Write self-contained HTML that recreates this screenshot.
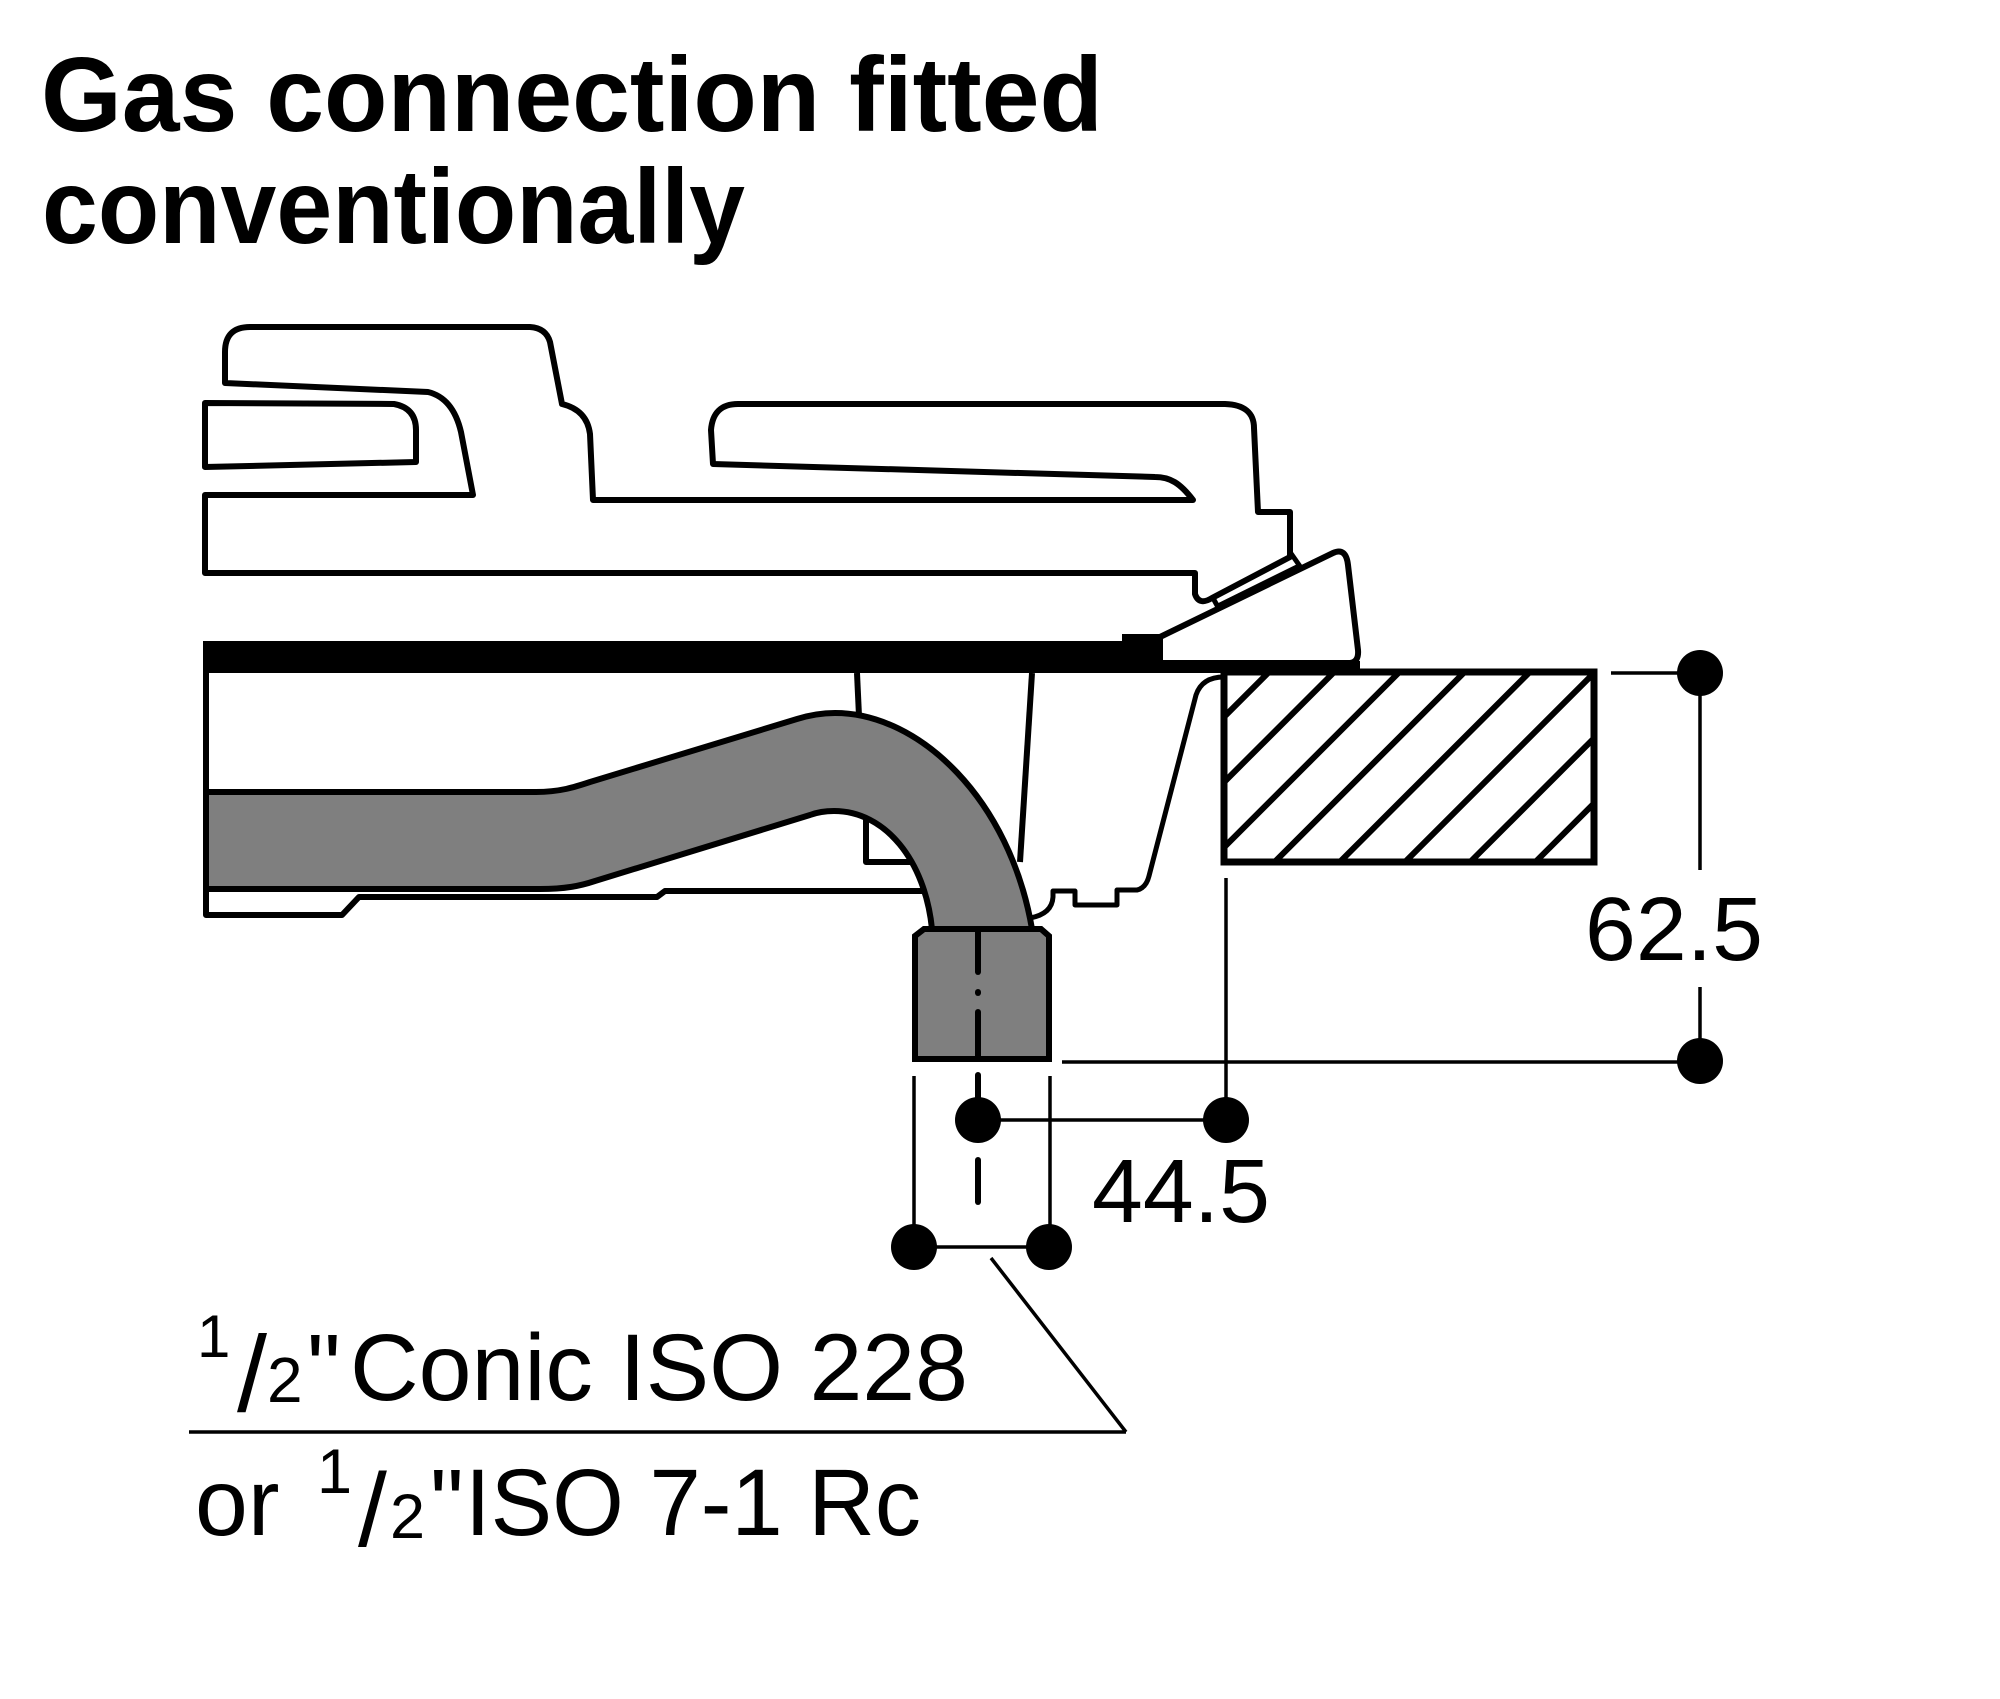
<!DOCTYPE html>
<html>
<head>
<meta charset="utf-8">
<style>
  html, body { margin: 0; padding: 0; background: #fff; }
  svg { display: block; }
</style>
</head>
<body>
<svg width="2000" height="1699" viewBox="0 0 2000 1699" xmlns="http://www.w3.org/2000/svg">
  <rect width="2000" height="1699" fill="#fff"/>

  <!-- Title -->
  <g font-family="'Liberation Sans', Arial, sans-serif" font-weight="bold" fill="#000">
    <text x="41" y="131" font-size="106" textLength="1062" lengthAdjust="spacingAndGlyphs">Gas connection fitted</text>
    <text x="42" y="243" font-size="106" textLength="703" lengthAdjust="spacingAndGlyphs">conventionally</text>
  </g>

  <!-- Upper appliance outline -->
  <g fill="#fff" stroke="#000" stroke-width="6" stroke-linejoin="round">
    <path d="M 225 383 L 225 352 Q 225 327 250 327 L 530 327 Q 546 328 550 342 L 562 404 Q 587 410 590 434 L 593 500 L 1193 500 C 1180 483 1170 477 1155 477 L 713 464 L 711 430 Q 713 404 738 404 L 1225 404 Q 1254 405 1254 428 L 1258 512 L 1290 512 L 1290 557 L 1212 598 Q 1199 606 1195 594 L 1195 573 L 205 573 L 205 495 L 473 495 L 461 432 Q 453 398 428 392 L 225 383 Z"/>
    <path d="M 205 403 L 394 404 Q 416 408 416 430 L 416 462 L 205 467 Z"/>
  </g>
  <!-- strip between top and wedge -->
  <g stroke="#000" stroke-width="5" fill="none" stroke-linecap="butt">
    <line x1="1290" y1="552" x2="1304" y2="572"/>
    <line x1="1218" y1="606" x2="1299" y2="566"/>
    <line x1="1213" y1="598" x2="1219" y2="609"/>
  </g>

  <!-- Wedge -->
  <path d="M 1160 637 L 1333 553 Q 1346 547 1348 565 L 1358 650 Q 1359 662 1350 663 L 1160 663 Z" fill="#fff" stroke="#000" stroke-width="6" stroke-linejoin="round"/>

  <!-- Black bar -->
  <rect x="203" y="641" width="957" height="32" fill="#000"/>
  <rect x="1122" y="634" width="40" height="9" fill="#000"/>
  <rect x="1158" y="661" width="202" height="12" fill="#000"/>

  <!-- Lower body lines -->
  <g stroke="#000" stroke-width="6" fill="none" stroke-linejoin="round">
    <path d="M 206 673 L 206 915 L 342 915 L 359 897 L 657 897 L 665 891 L 932 891"/>
    <path d="M 857 673 L 859 716"/>
    <path d="M 866 815 L 866 862 L 915 862"/>
    <path d="M 1032 673 L 1020 862"/>
  </g>
  <path d="M 1030 918 Q 1052 914 1053 897 L 1053 891 L 1075 891 L 1075 905 L 1117 905 L 1117 890 L 1137 890 Q 1146 888 1149 876 L 1196 695 Q 1202 677 1224 677" stroke="#000" stroke-width="5" fill="none" stroke-linejoin="round"/>

  <!-- Pipe -->
  <path d="M 206 792 L 536 792 C 560 792 575 787 590 782 L 797 719 C 810 715 822 713 835 713 C 920 713 1010 800 1032 929 L 932 929 C 925 860 885 811 834 811 C 826 811 818 812 810 815 L 595 881 C 580 886 565 889 540 889 L 206 889 Z" fill="#7f7f7f" stroke="#000" stroke-width="6" stroke-linejoin="round"/>

  <!-- Fitting -->
  <path d="M 915 1059 L 915 936 L 924 929 L 1041 929 L 1049 936 L 1049 1059 Z" fill="#7f7f7f" stroke="#000" stroke-width="6" stroke-linejoin="miter"/>
  <g stroke="#000" stroke-width="6" stroke-linecap="round">
    <line x1="978" y1="929" x2="978" y2="972"/>
    <line x1="978" y1="992" x2="978" y2="993"/>
    <line x1="978" y1="1012" x2="978" y2="1059"/>
    <line x1="978" y1="1075" x2="978" y2="1115"/>
    <line x1="978" y1="1160" x2="978" y2="1202"/>
  </g>

  <!-- Hatched counter -->
  <defs>
    <clipPath id="hc"><rect x="1224" y="672" width="370" height="190"/></clipPath>
  </defs>
  <g clip-path="url(#hc)" stroke="#000" stroke-width="6">
    <line x1="1079" y1="862" x2="1269" y2="672"/>
    <line x1="1144.2" y1="862" x2="1334.2" y2="672"/>
    <line x1="1209.4" y1="862" x2="1399.4" y2="672"/>
    <line x1="1274.6" y1="862" x2="1464.6" y2="672"/>
    <line x1="1339.8" y1="862" x2="1529.8" y2="672"/>
    <line x1="1405" y1="862" x2="1595" y2="672"/>
    <line x1="1470.2" y1="862" x2="1660.2" y2="672"/>
    <line x1="1535.4" y1="862" x2="1725.4" y2="672"/>
  </g>
  <rect x="1224" y="672" width="370" height="190" fill="none" stroke="#000" stroke-width="7"/>

  <!-- Dimension lines -->
  <g stroke="#000" stroke-width="3.5" fill="none">
    <line x1="1611" y1="673" x2="1700" y2="673"/>
    <line x1="1700" y1="673" x2="1700" y2="870"/>
    <line x1="1700" y1="987" x2="1700" y2="1061"/>
    <line x1="1062" y1="1062" x2="1700" y2="1062"/>
    <line x1="1226" y1="878" x2="1226" y2="1120"/>
    <line x1="978" y1="1120" x2="1226" y2="1120"/>
    <line x1="914" y1="1076" x2="914" y2="1247"/>
    <line x1="1050" y1="1076" x2="1050" y2="1247"/>
    <line x1="914" y1="1247" x2="1050" y2="1247"/>
    <line x1="991" y1="1258" x2="1126" y2="1432"/>
    <line x1="189" y1="1432" x2="1126" y2="1432"/>
  </g>
  <g fill="#000">
    <circle cx="1700" cy="673" r="23"/>
    <circle cx="1700" cy="1061" r="23"/>
    <circle cx="978" cy="1120" r="23"/>
    <circle cx="1226" cy="1120" r="23"/>
    <circle cx="914" cy="1247" r="23"/>
    <circle cx="1049" cy="1247" r="23"/>
  </g>

  <!-- Dimension labels -->
  <g font-family="'Liberation Sans', Arial, sans-serif" fill="#000">
    <text x="1585" y="960" font-size="90" textLength="178" lengthAdjust="spacingAndGlyphs">62.5</text>
    <text x="1092" y="1222" font-size="90" textLength="178" lengthAdjust="spacingAndGlyphs">44.5</text>
  </g>

  <!-- Thread label -->
  <g font-family="'Liberation Sans', Arial, sans-serif" fill="#000">
    <text x="197" y="1357" font-size="60">1</text>
    <text x="237" y="1411" font-size="108">/</text>
    <text x="267" y="1402" font-size="64">2</text>
    <text x="307" y="1400" font-size="95">"</text>
    <text x="350" y="1400" font-size="95" textLength="618" lengthAdjust="spacingAndGlyphs">Conic ISO 228</text>

    <text x="195" y="1535" font-size="95">or</text>
    <text x="317" y="1493" font-size="63">1</text>
    <text x="358" y="1546" font-size="104">/</text>
    <text x="390" y="1538" font-size="63">2</text>
    <text x="430" y="1535" font-size="95">"</text>
    <text x="465" y="1535" font-size="95" textLength="456" lengthAdjust="spacingAndGlyphs">ISO 7-1 Rc</text>
  </g>
</svg>
</body>
</html>
